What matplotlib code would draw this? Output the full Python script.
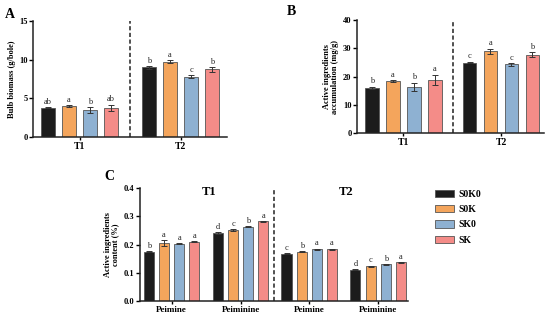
import matplotlib
matplotlib.use("Agg")
import matplotlib.pyplot as plt
import matplotlib.patches as patches
import numpy as np

plt.rcParams['font.family'] = ['Liberation Serif', 'DejaVu Serif']
plt.rcParams['font.weight'] = 'bold'

treatments = ['S0K0', 'S0K', 'SK0', 'SK']
colors = ['#1c1c1c', '#f4a55c', '#8eb1d2', '#f48c88']
periods = ['T1', 'T2']
compounds = ['Peimine', 'Peiminine']

# panel A: bulb biomass
biomass = [[3.8, 4.0, 3.45, 3.8], [9.0, 9.75, 7.8, 8.75]]
biomass_err = [[0.1, 0.08, 0.4, 0.4], [0.15, 0.2, 0.2, 0.35]]
biomass_sig = [['ab', 'a', 'b', 'ab'], ['b', 'a', 'c', 'b']]

# panel B: accumulation
accum = [[16.0, 18.5, 16.3, 18.8], [25.0, 29.0, 24.3, 27.8]]
accum_err = [[0.4, 0.3, 1.5, 1.9], [0.3, 0.9, 0.5, 0.8]]
accum_sig = [['b', 'a', 'b', 'a'], ['c', 'a', 'c', 'b']]

# panel C: content, order T1-Peimine, T1-Peiminine, T2-Peimine, T2-Peiminine
content = [[0.175, 0.205, 0.203, 0.21], [0.242, 0.252, 0.263, 0.283],
           [0.168, 0.175, 0.183, 0.184], [0.111, 0.124, 0.130, 0.137]]
content_err = [[0.002, 0.01, 0.002, 0.002], [0.004, 0.002, 0.002, 0.002],
               [0.002, 0.002, 0.003, 0.002], [0.002, 0.002, 0.002, 0.002]]
content_sig = [['b', 'a', 'a', 'a'], ['d', 'c', 'b', 'a'],
               ['c', 'b', 'a', 'a'], ['d', 'c', 'b', 'a']]


def style(ax, ymax, step, fmt):
    for s in ['top', 'right']:
        ax.spines[s].set_visible(False)
    for s in ['left', 'bottom']:
        ax.spines[s].set_linewidth(1.1)
        ax.spines[s].set_color('#222222')
    ax.set_ylim(0, ymax)
    yt = np.arange(0, ymax + step / 2, step)
    ax.set_yticks(yt)
    ax.set_yticklabels([fmt % v for v in yt], fontsize=6, fontweight='bold')
    ax.tick_params(axis='y', length=3, width=1, pad=1)
    ax.tick_params(axis='x', length=2.5, width=1, pad=1)


def bars(ax, starts, vals, errs, sigs, offset):
    for g, x0 in enumerate(starts):
        for i in range(4):
            x = x0 + i
            ax.bar(x, vals[g][i], width=0.66, color=colors[i], edgecolor='#555555',
                   linewidth=0.6, zorder=2)
            ax.errorbar(x, vals[g][i], yerr=errs[g][i], color='#333333', capsize=2.2,
                        elinewidth=0.7, capthick=0.7, zorder=3)
            ax.text(x, vals[g][i] + errs[g][i] + offset, sigs[g][i], ha='center',
                    va='bottom', fontsize=6, fontweight='normal', color='#222222')


fig = plt.figure(figsize=(5.5, 3.2), dpi=100)

# A
axA = fig.add_axes([0.060, 0.572, 0.353, 0.362])
startsA = [0, 4.8]
bars(axA, startsA, biomass, biomass_err, biomass_sig, 0.15)
style(axA, 15, 5, '%d')
axA.set_xlim(-0.71, 8.51)
axA.set_xticks([s + 1.5 for s in startsA])
axA.set_xticklabels(periods, fontsize=7, fontweight='bold')
axA.axvline(3.9, color='#333333', linestyle='--', linewidth=1.2, dashes=(2.5, 1.5))
axA.set_ylabel('Bulb biomass (g/bole)', fontsize=6, fontweight='bold', labelpad=2)
fig.text(0.008, 0.975, 'A', fontsize=10, fontweight='bold', va='top')

# B
axB = fig.add_axes([0.649, 0.584, 0.340, 0.353])
startsB = [0, 4.65]
bars(axB, startsB, accum, accum_err, accum_sig, 0.5)
style(axB, 40, 10, '%d')
axB.set_xlim(-0.72, 8.2)
axB.set_xticks([s + 1.5 for s in startsB])
axB.set_xticklabels(periods, fontsize=7, fontweight='bold')
axB.axvline(3.86, color='#333333', linestyle='--', linewidth=1.2, dashes=(2.5, 1.5))
axB.set_ylabel('Active ingredients\naccumulation (mg/g)', fontsize=6, fontweight='bold',
               labelpad=3, linespacing=1.0)
fig.text(0.522, 0.985, 'B', fontsize=10, fontweight='bold', va='top')

# C
axC = fig.add_axes([0.2545, 0.059, 0.487, 0.353])
startsC = [0, 4.54, 9.06, 13.6]
bars(axC, startsC, content, content_err, content_sig, 0.004)
style(axC, 0.4, 0.1, '%.1f')
axC.set_xlim(-0.59, 17.05)
axC.set_xticks([s + 1.5 for s in startsC])
axC.set_xticklabels(compounds * 2, fontsize=6.5, fontweight='bold')
axC.axvline(8.25, color='#333333', linestyle='--', linewidth=1.2, dashes=(2.5, 1.5))
axC.set_ylabel('Active ingredients\ncontent (%)', fontsize=6, fontweight='bold',
               labelpad=3, linespacing=1.0)
axC.text(3.95, 0.97, 'T1', transform=axC.get_xaxis_transform(), ha='center', va='center',
         fontsize=9, fontweight='bold')
axC.text(13.0, 0.97, 'T2', transform=axC.get_xaxis_transform(), ha='center', va='center',
         fontsize=9, fontweight='bold')
fig.text(0.19, 0.47, 'C', fontsize=10, fontweight='bold', va='top')

handles = [patches.Patch(facecolor=c, edgecolor='#555555', linewidth=0.6) for c in colors]
fig.legend(handles, treatments, loc='upper left', bbox_to_anchor=(0.775, 0.435),
           frameon=False, handlelength=2.0, handleheight=0.8,
           labelspacing=0.65, handletextpad=0.4, prop={'weight': 'bold', 'size': 7})

fig.savefig('out.png', dpi=100)
